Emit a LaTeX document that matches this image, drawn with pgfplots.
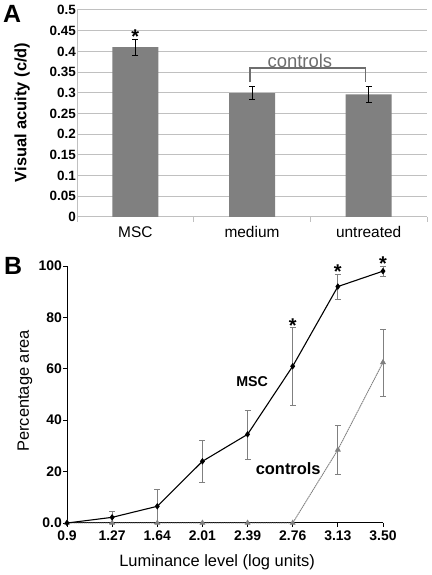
\documentclass[border=0pt]{standalone}
\usepackage{fontspec}
\setmainfont{Liberation Sans}
\usepackage{pgfplots}
\pgfplotsset{compat=1.18}
\definecolor{bargray}{RGB}{128,128,128}
\definecolor{gridgray}{RGB}{192,192,192}
\definecolor{txtgray}{RGB}{110,110,110}
\begin{document}
\begin{tikzpicture}[x=1bp,y=1bp]
\path[use as bounding box] (0,0) rectangle (431,575);
\node[anchor=north west, font=\fontsize{25}{25}\selectfont\bfseries, inner sep=0] at (3,570) {A};
\node[anchor=north west, font=\fontsize{25}{25}\selectfont\bfseries, inner sep=0] at (4,318) {B};
% Panel A
\begin{axis}[
  at={(77bp,358bp)}, anchor=south west, scale only axis,
  width=350bp, height=207bp,
  xmin=-0.5, xmax=2.5, ymin=0, ymax=0.5,
  ybar, bar width=46bp,
  axis x line*=bottom, axis y line*=left,
  axis line style={gridgray, line width=1bp},
  ymajorgrids, grid style={gridgray, line width=1bp},
  ytick={0,0.05,0.1,0.15,0.2,0.25,0.3,0.35,0.4,0.45,0.5},
  yticklabels={0,0.05,0.1,0.15,0.2,0.25,0.3,0.35,0.4,0.45,0.5},
  ytick style={draw=none},
  yticklabel style={font=\fontsize{13.5}{14}\selectfont\bfseries, inner sep=1bp},
  xtick={0,1,2}, xticklabels={MSC,medium,untreated},
  xtick style={draw=none},
  xticklabel style={font=\fontsize{15.5}{16}\selectfont, yshift=-2bp},
  extra x ticks={-0.5,0.5,1.5,2.5}, extra x tick labels={},
  extra x tick style={tick align=outside, major tick length=5bp, xtick style={draw=gridgray, line width=1bp}},
  ylabel={Visual acuity (c/d)},
  ylabel style={at={(axis description cs:-0.157,0.505)}, anchor=center, font=\fontsize{16.5}{17}\selectfont\bfseries},
  clip=false,
]
\addplot[fill=bargray, draw=none,
  error bars/.cd, y dir=both, y explicit,
  error bar style={black, line width=0.9bp},
  error mark options={rotate=90, black, mark size=3bp, line width=0.9bp}]
  coordinates {(0,0.41) +- (0,0.02) (1,0.299) +- (0,0.016) (2,0.296) +- (0,0.02)};
\draw[txtgray, line width=1.2bp] (axis cs:0.983,0.325) -- (axis cs:0.983,0.36) -- (axis cs:1.97,0.36) -- (axis cs:1.97,0.325);
\node[txtgray, font=\fontsize{18.5}{19}\selectfont] at (axis cs:1.41,0.376) {controls};
\node[anchor=base, inner sep=0, font=\fontsize{20}{20}\selectfont\bfseries] at (axis cs:0,0.42) {*};
\end{axis}
% Panel B
\begin{axis}[
  at={(67bp,52bp)}, anchor=south west, scale only axis,
  width=316bp, height=257bp,
  xmin=0, xmax=7, ymin=0, ymax=100,
  axis x line*=bottom, axis y line*=left,
  axis line style={black, line width=1bp},
  xtick={0,1,2,3,4,5,6,7},
  xticklabels={0.9,1.27,1.64,2.01,2.39,2.76,3.13,3.50},
  ytick={0,20,40,60,80,100},
  yticklabels={0.0,20,40,60,80,100},
  tick align=outside, major tick length=4bp,
  tick style={black, line width=0.8bp},
  xticklabel style={font=\fontsize{14}{14}\selectfont\bfseries},
  yticklabel style={font=\fontsize{14}{14}\selectfont\bfseries, inner sep=1bp},
  xlabel={Luminance level (log units)},
  xlabel style={at={(axis description cs:0.475,-0.152)}, anchor=center, font=\fontsize{16.5}{17}\selectfont},
  ylabel={Percentage area},
  ylabel style={at={(axis description cs:-0.133,0.514)}, anchor=center, font=\fontsize{16.5}{17}\selectfont},
  clip=false,
]
\addplot[gray, line width=0.9bp, dash pattern=on 1.5bp off 0.6bp,
  mark=triangle*, mark size=2.6bp, mark options={solid, fill=gray, draw=gray},
  error bars/.cd, y dir=both, y explicit,
  error bar style={gray, line width=0.8bp, solid},
  error mark options={rotate=90, gray, mark size=3bp, solid}]
  coordinates {(0,0) (1,0) (2,0) (3,0) (4,0) (5,0) (6,28.5) +- (0,9.7) (7,62.5) +- (0,13)};
\addplot[black, line width=1.1bp,
  mark=diamond*, mark size=2.4bp, mark options={fill=black},
  error bars/.cd, y dir=both, y explicit,
  error bar style={gray, line width=0.9bp},
  error mark options={rotate=90, gray, mark size=3bp}]
  coordinates {(0,0) (1,2.2) +- (0,2.3) (2,6.5) +- (0,6.5) (3,24) +- (0,8.3) (4,34.5) +- (0,9.5) (5,61) +- (0,15) (6,92) +- (0,5) (7,98) +- (0,2)};
\node[font=\fontsize{14.3}{15}\selectfont\bfseries] at (axis cs:4.1,55) {MSC};
\node[font=\fontsize{16.5}{17}\selectfont\bfseries] at (axis cs:4.9,21) {controls};
\node[anchor=base, inner sep=0, font=\fontsize{20}{20}\selectfont\bfseries] at (axis cs:5,74.1) {*};
\node[anchor=base, inner sep=0, font=\fontsize{20}{20}\selectfont\bfseries] at (axis cs:6,95.1) {*};
\node[anchor=base, inner sep=0, font=\fontsize{20}{20}\selectfont\bfseries] at (axis cs:7,98.2) {*};
\end{axis}
\end{tikzpicture}
\end{document}
